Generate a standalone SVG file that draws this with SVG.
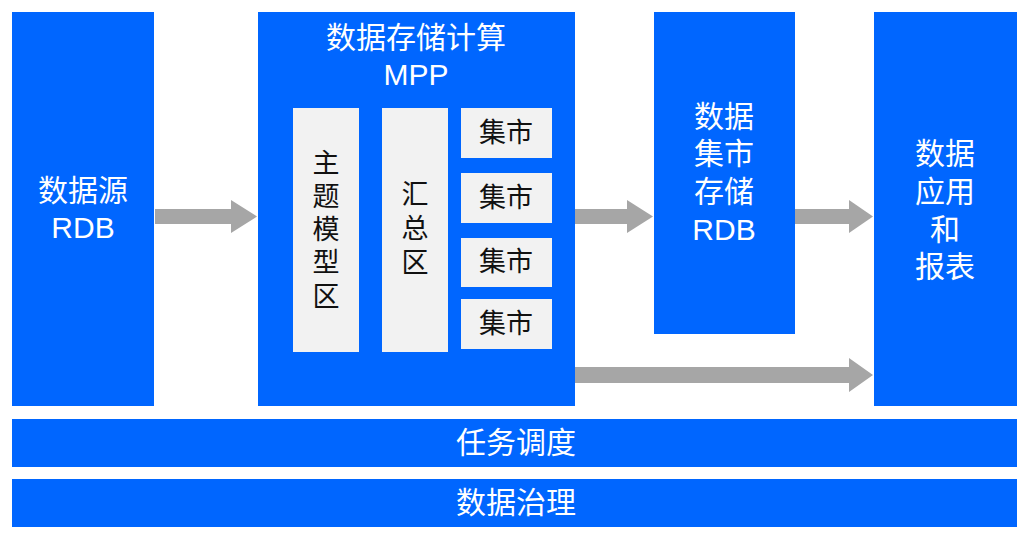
<svg xmlns="http://www.w3.org/2000/svg" width="1024" height="538" viewBox="0 0 1024 538">
<defs>
<style>
.blue{fill:#0066ff}
.inner{fill:#f2f2f2}
.arrow{fill:#a6a6a6}
.wt{fill:#ffffff;font-family:"Liberation Sans","Noto Sans CJK SC",sans-serif;font-size:30px;text-anchor:middle;dominant-baseline:central}
.bt{fill:#111111;font-family:"Liberation Sans","Noto Sans CJK SC",sans-serif;font-size:27px;text-anchor:middle;dominant-baseline:central}
</style>
</defs>
<rect width="1024" height="538" fill="#ffffff"/>
<g id="source">
<rect class="blue" x="12" y="12" width="142" height="394"/>
<text class="wt" x="83" y="190">数据源</text>
<text class="wt" x="83" y="227">RDB</text>
</g>
<g id="mpp">
<rect class="blue" x="258" y="12" width="317" height="394"/>
<text class="wt" x="416" y="37">数据存储计算</text>
<text class="wt" x="416" y="74">MPP</text>
</g>
<g id="subject">
<rect class="inner" x="293" y="108" width="66" height="244"/>
<text class="bt" x="326" y="164">主</text>
<text class="bt" x="326" y="197">题</text>
<text class="bt" x="326" y="230">模</text>
<text class="bt" x="326" y="263">型</text>
<text class="bt" x="326" y="297">区</text>
</g>
<g id="summary">
<rect class="inner" x="382" y="108" width="66" height="244"/>
<text class="bt" x="415" y="195">汇</text>
<text class="bt" x="415" y="229">总</text>
<text class="bt" x="415" y="263">区</text>
</g>
<g id="mart1">
<rect class="inner" x="461" y="108" width="91" height="50"/>
<text class="bt" x="506" y="133">集市</text>
</g>
<g id="mart2">
<rect class="inner" x="461" y="173" width="91" height="50"/>
<text class="bt" x="506" y="198">集市</text>
</g>
<g id="mart3">
<rect class="inner" x="461" y="238" width="91" height="49"/>
<text class="bt" x="506" y="262">集市</text>
</g>
<g id="mart4">
<rect class="inner" x="461" y="299" width="91" height="50"/>
<text class="bt" x="506" y="324">集市</text>
</g>
<g id="martstore">
<rect class="blue" x="654" y="12" width="141" height="322"/>
<text class="wt" x="724" y="116">数据</text>
<text class="wt" x="724" y="153">集市</text>
<text class="wt" x="724" y="191">存储</text>
<text class="wt" x="724" y="229">RDB</text>
</g>
<g id="app">
<rect class="blue" x="874" y="12" width="143" height="394"/>
<text class="wt" x="945" y="153">数据</text>
<text class="wt" x="945" y="191">应用</text>
<text class="wt" x="945" y="229">和</text>
<text class="wt" x="945" y="266">报表</text>
</g>
<g id="schedule">
<rect class="blue" x="12" y="419" width="1005" height="48"/>
<text class="wt" x="516" y="442">任务调度</text>
</g>
<g id="governance">
<rect class="blue" x="12" y="479" width="1005" height="48"/>
<text class="wt" x="516" y="502">数据治理</text>
</g>
<g id="connectors">
<polygon class="arrow" points="155,209 231,209 231,200 257,216.5 231,233 231,224 155,224"/>
<polygon class="arrow" points="575,209 627,209 627,200 653,216.5 627,233 627,224 575,224"/>
<polygon class="arrow" points="795,209 849,209 849,200 873,216.5 849,233 849,224 795,224"/>
<polygon class="arrow" points="575,367 849,367 849,358 873,375 849,392 849,383 575,383"/>
</g>
</svg>
